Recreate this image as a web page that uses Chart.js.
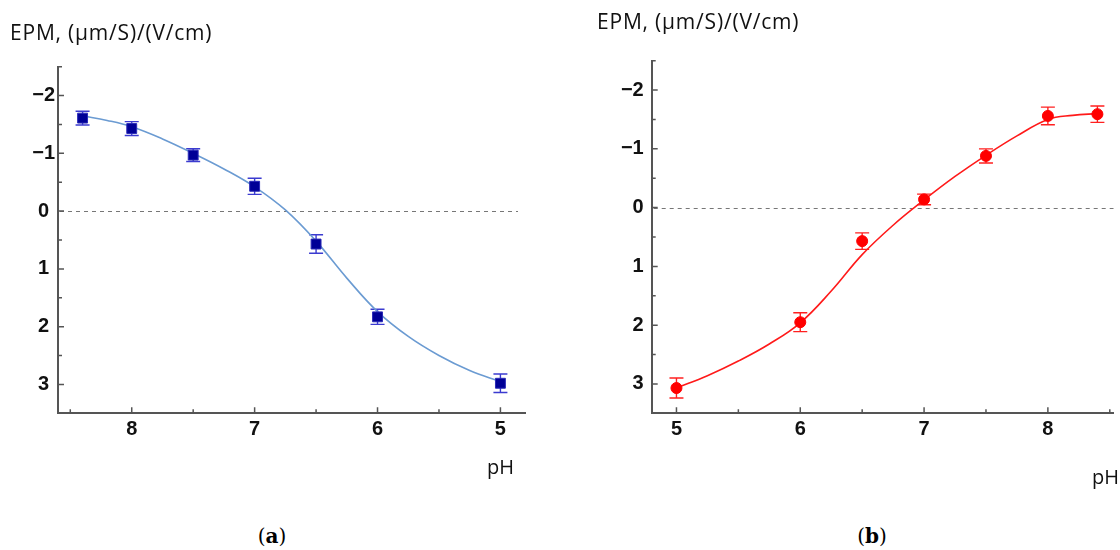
<!DOCTYPE html>
<html>
<head>
<meta charset="utf-8">
<script src="https://cdn.jsdelivr.net/npm/chart.js@4.4.1/dist/chart.umd.min.js"></script>
<style>
  body { margin: 0; background: #fff; }
  #wrap { position: relative; width: 1120px; height: 550px; overflow: hidden; }
  canvas { position: absolute; top: 0; }
  .lbl { position: absolute; font-family: "Open Sans", sans-serif; font-size: 20px; line-height: 20px; color: #111; white-space: nowrap; }
  .ttl { font-size: 21px; letter-spacing: 0.8px; }
  .cap { position: absolute; font-family: "DejaVu Serif", serif; font-size: 20px; line-height: 20px; color: #000; white-space: nowrap; transform: translateX(-50%); }
</style>
</head>
<body>
<div id="wrap">
  <canvas id="chartA" width="560" height="500" style="left:0"></canvas>
  <canvas id="chartB" width="560" height="500" style="left:560px"></canvas>
  <div class="lbl ttl" style="left:10px;top:22px">EPM, (μm/S)/(V/cm)</div>
  <div class="lbl ttl" style="left:597px;top:11px">EPM, (μm/S)/(V/cm)</div>
  <div class="lbl" style="left:487px;top:457px">pH</div>
  <div class="lbl" style="left:1092px;top:467px">pH</div>
  <div class="cap" style="left:272px;top:526px">(<b>a</b>)</div>
  <div class="cap" style="left:872px;top:526px">(<b>b</b>)</div>
</div>
<script>
// tick values (major get a label, minor are just short marks)
var xTicks = [5, 6, 7, 8];
var xMinor = [5.5, 6.5, 7.5, 8.5];
var yTicks = [-2, -1, 0, 1, 2, 3];
var yMinor = [-2.5, -1.5, -0.5, 0.5, 1.5, 2.5];
var zeroLine = 0;

// (a) measured points
var phA = [8.4, 8, 7.5, 7, 6.5, 6, 5];
var epmA = [-1.61, -1.43, -0.97, -0.43, 0.57, 1.83, 2.98];
var errA = [0.12, 0.12, 0.11, 0.14, 0.16, 0.13, 0.16];
// (a) fitted curve
var fitPhA = [8.4, 8.2, 8, 7.75, 7.5, 7.25, 7, 6.75, 6.5, 6.25, 6, 5.75, 5.5, 5.25, 5];
var fitA = [-1.65, -1.57, -1.46, -1.25, -1.0, -0.73, -0.42, -0.02, 0.52, 1.16, 1.74, 2.17, 2.5, 2.76, 2.95];

// (b) measured points
var phB = [5, 6, 6.5, 7, 7.5, 8, 8.4];
var epmB = [3.07, 1.95, 0.57, -0.14, -0.88, -1.56, -1.59];
var errB = [0.17, 0.16, 0.14, 0.09, 0.12, 0.15, 0.14];
// (b) fitted curve
var fitPhB = [5, 5.25, 5.5, 5.75, 6, 6.25, 6.5, 6.75, 7, 7.25, 7.5, 7.75, 8, 8.2, 8.4];
var fitB = [3.07, 2.86, 2.61, 2.32, 1.96, 1.42, 0.8, 0.3, -0.13, -0.53, -0.89, -1.22, -1.5, -1.57, -1.6];

function toPoints(xs, ys) {
	return xs.map(function(x, i) { return { x: x, y: ys[i] }; });
}

// bold tick labels
var tickFont = { family: 'Arial', size: 20, weight: '700' };

// dashed zero line, error bars, inward tick marks
var decor = {
	id: 'decor',
	beforeDatasetsDraw: function(chart, args, opts) {
		var ctx = chart.ctx, xs = chart.scales.x, ys = chart.scales.y, area = chart.chartArea;
		ctx.save();
		ctx.strokeStyle = '#777';
		ctx.lineWidth = 1;
		ctx.setLineDash([4, 4]);
		var y0 = Math.round(ys.getPixelForValue(zeroLine)) + 0.5;
		ctx.beginPath();
		ctx.moveTo(area.left + 2, y0);
		ctx.lineTo(area.right - opts.dashGap, y0);
		ctx.stroke();
		ctx.restore();

		chart.data.datasets.forEach(function(ds) {
			if (!ds.yErr) return;
			ctx.save();
			ctx.strokeStyle = ds.errColor;
			ctx.lineWidth = 1.4;
			ds.data.forEach(function(p, i) {
				var x = xs.getPixelForValue(p.x);
				var t = ys.getPixelForValue(p.y - ds.yErr[i]);
				var b = ys.getPixelForValue(p.y + ds.yErr[i]);
				ctx.beginPath();
				ctx.moveTo(x, t); ctx.lineTo(x, b);
				ctx.moveTo(x - 7, t); ctx.lineTo(x + 7, t);
				ctx.moveTo(x - 7, b); ctx.lineTo(x + 7, b);
				ctx.stroke();
			});
			ctx.restore();
		});
	},
	afterDraw: function(chart) {
		var ctx = chart.ctx, xs = chart.scales.x, ys = chart.scales.y, area = chart.chartArea;
		ctx.save();
		ctx.strokeStyle = '#555';
		ctx.lineWidth = 1.5;
		ctx.beginPath();
		xTicks.forEach(function(v) {
			var x = xs.getPixelForValue(v);
			ctx.moveTo(x, area.bottom); ctx.lineTo(x, area.bottom - 6);
		});
		xMinor.forEach(function(v) {
			var x = xs.getPixelForValue(v);
			ctx.moveTo(x, area.bottom); ctx.lineTo(x, area.bottom - 4);
		});
		yTicks.forEach(function(v) {
			var y = ys.getPixelForValue(v);
			ctx.moveTo(area.left, y); ctx.lineTo(area.left + 6, y);
		});
		yMinor.forEach(function(v) {
			var y = ys.getPixelForValue(v);
			ctx.moveTo(area.left, y); ctx.lineTo(area.left + 4, y);
		});
		ctx.stroke();
		ctx.restore();
	}
};

// minus sign instead of hyphen on the value axis
function minusLabel(v) {
	return v < 0 ? '\u2212' + Math.abs(v) : String(v);
}

function makeOptions(cfg) {
	return {
		responsive: false,
		devicePixelRatio: 1,
		animation: false,
		layout: { padding: { left: 0, right: cfg.padRight, top: cfg.padTop, bottom: 0 } },
		plugins: {
			legend: { display: false },
			tooltip: { enabled: false },
			decor: { dashGap: cfg.dashGap }
		},
		scales: {
			x: {
				type: 'linear',
				min: 4.8,
				max: cfg.xMax,
				reverse: cfg.reverse,
				afterBuildTicks: function(s) { s.ticks = xTicks.map(function(v) { return { value: v }; }); },
				afterFit: function(s) { s.height = 86.7; },
				grid: { display: false, drawTicks: false },
				border: { display: true, color: '#555', width: 2 },
				ticks: { color: '#111', font: tickFont, padding: 4, maxRotation: 0 }
			},
			y: {
				type: 'linear',
				min: -2.5,
				max: 3.5,
				reverse: true,
				afterBuildTicks: function(s) { s.ticks = yTicks.map(function(v) { return { value: v }; }); },
				afterFit: function(s) { s.width = cfg.yWidth; },
				grid: { display: false, drawTicks: false },
				border: { display: true, color: '#555', width: 2 },
				ticks: { color: '#111', font: tickFont, padding: cfg.yPad, crossAlign: cfg.yAlign, callback: minusLabel }
			}
		}
	};
}

// chart (a): pH falling to the right
new Chart(document.getElementById('chartA'), {
	type: 'scatter',
	data: {
		datasets: [
			{
				data: toPoints(phA, epmA),
				yErr: errA,
				errColor: '#3b3bd0',
				pointStyle: 'rect',
				pointRadius: 7,
				backgroundColor: '#000096',
				borderColor: '#2a2ab8',
				borderWidth: 1
			},
			{
				data: toPoints(fitPhA, fitA),
				showLine: true,
				pointRadius: 0,
				borderColor: '#6b9bd2',
				borderWidth: 1.6,
				tension: 0.4
			}
		]
	},
	options: makeOptions({ reverse: true, xMax: 8.6, padRight: 35, padTop: 66.7, yWidth: 58, yPad: 3, yAlign: 'center', dashGap: 7 }),
	plugins: [decor]
});

// chart (b): pH rising to the right
new Chart(document.getElementById('chartB'), {
	type: 'scatter',
	data: {
		datasets: [
			{
				data: toPoints(phB, epmB),
				yErr: errB,
				errColor: '#ff2020',
				pointStyle: 'circle',
				pointRadius: 5.5,
				backgroundColor: '#ff0000',
				borderColor: '#ff0000',
				borderWidth: 1
			},
			{
				data: toPoints(fitPhB, fitB),
				showLine: true,
				pointRadius: 0,
				borderColor: '#ff1a1a',
				borderWidth: 1.6,
				tension: 0.4
			}
		]
	},
	options: makeOptions({ reverse: false, xMax: 8.53, padRight: 1.3, padTop: 60.7, yWidth: 91.7, yPad: 8, yAlign: 'near', dashGap: 0 }),
	plugins: [decor]
});
</script>
</body>
</html>
